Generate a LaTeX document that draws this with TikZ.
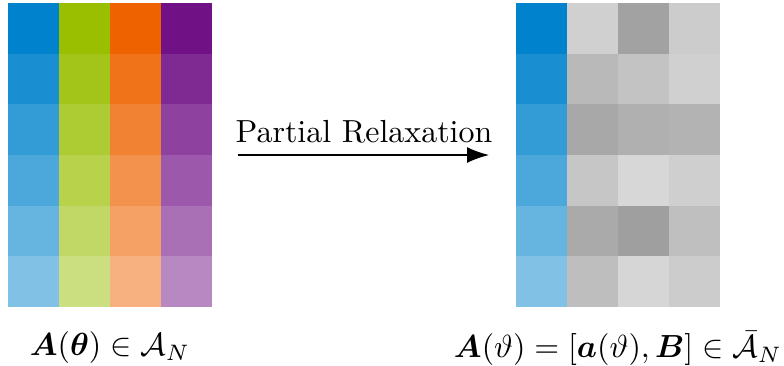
\documentclass[tikz,border=0pt]{standalone}
\usepackage{amsmath}
\usepackage{amssymb}
\usepackage{bm}
\usetikzlibrary{arrows.meta, positioning, fit}
\definecolor{bleuCol}{RGB}{0, 130, 204}
\definecolor{vertCol}{RGB}{153, 191, 0}
\definecolor{orangeCol}{RGB}{238, 99, 0}
\definecolor{violetCol}{RGB}{113, 17, 134}

\begin{document}
\begin{tikzpicture}[
  x=0.011cm, y=-0.011cm,
  cadre/.style={inner sep=0pt, draw=none},
  fleche/.style={-{Latex[length=7pt, width=5pt]}, line width=0.65pt,
    shorten <=0.275cm, shorten >=0.286cm},
  legende/.style={font=\normalsize},
]
\useasboundingbox (0,0) rectangle (784,365);
% matrice de gauche
\foreach \c/\coul in {0/bleuCol, 1/vertCol, 2/orangeCol, 3/violetCol}
  \foreach \r/\p in {0/100, 1/90, 2/80, 3/70, 4/60, 5/50}
    \fill[\coul!\p!white] ({8+51*\c},{3+50.667*\r}) rectangle ++(51,50.667);
\node[cadre, fit={(8,3) (212,307)}] (gauche) {};
% matrice de droite
\foreach \r/\p in {0/100, 1/90, 2/80, 3/70, 4/60, 5/50}
  \fill[bleuCol!\p!white] (516,{3+50.667*\r}) rectangle ++(51,50.667);
\foreach \r/\ga/\gb/\gc in {0/208/162/204, 1/185/195/208, 2/168/176/179,
                            3/198/215/207, 4/170/159/191, 5/190/214/204}
  \foreach \c/\g in {1/\ga, 2/\gb, 3/\gc} {
    \definecolor{gris}{RGB}{\g,\g,\g}
    \fill[gris] ({516+51*\c},{3+50.667*\r}) rectangle ++(51,50.667);
  }
\node[cadre, fit={(516,3) (720,307)}] (droite) {};
% fleche
\draw[fleche] (gauche.east) -- (droite.west)
  node[midway, above] (relax) {Partial Relaxation};
% legendes
\node[legende, below=0.14cm of gauche] (legG)
  {$\bm{A}(\bm{\theta}) \in \mathcal{A}_N$};
\node[legende, below=0.14cm of droite] (legD)
  {$\bm{A}(\vartheta) = [\bm{a}(\vartheta), \bm{B}] \in \bar{\mathcal{A}}_N$};
\end{tikzpicture}
\end{document}
